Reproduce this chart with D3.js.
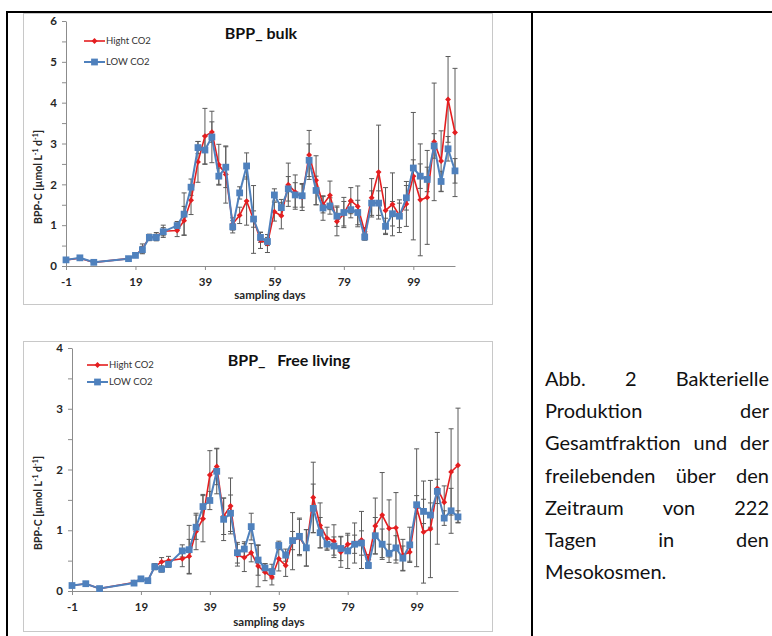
<!DOCTYPE html>
<html>
<head>
<meta charset="utf-8">
<script src="https://cdn.jsdelivr.net/npm/d3@7"></script>
<style>
  html, body { margin: 0; padding: 0; background: #fff; }
  svg { display: block; }
  text { font-family: Lato, "Open Sans", sans-serif; }
</style>
</head>
<body>
<script>
// ---------------- DATA ----------------
const days = [-1, 3, 7, 17, 19, 21, 23, 25, 27, 31, 33, 35, 37, 39, 41, 43, 45, 47, 49, 51, 53, 55, 57, 59, 61, 63, 65, 67, 69, 71, 73, 75, 77, 79, 81, 83, 85, 87, 89, 91, 93, 95, 97, 99, 101, 103, 105, 107, 109, 111];

const seriesNames = ["Hight CO2", "LOW CO2"];

// BPP bulk
const bulkHigh = [0.15, 0.19, 0.09, 0.18, 0.26, 0.42, 0.70, 0.72, 0.85,
  0.87, 1.11, 1.61, 2.55, 3.18, 3.28, 2.48, 2.24, 1.03, 1.24, 1.59, 1.14, 0.63, 0.55, 1.33, 1.23,
  1.99, 1.81, 1.69, 2.72, 2.10, 1.50, 1.73, 1.09, 1.28, 1.60, 1.46, 0.84, 1.67, 2.30, 1.36, 1.51,
  1.24, 1.52, 2.20, 1.62, 1.68, 3.04, 2.57, 4.08, 3.27];
const bulkLow = [0.15, 0.20, 0.09, 0.18, 0.26, 0.40, 0.70, 0.70, 0.84,
  0.99, 1.27, 1.93, 2.90, 2.84, 3.16, 2.20, 2.42, 0.96, 1.79, 2.45, 1.15, 0.70, 0.60, 1.74, 1.43,
  1.89, 1.74, 1.72, 2.59, 1.85, 1.42, 1.47, 1.22, 1.31, 1.38, 1.31, 0.71, 1.54, 1.54, 0.97, 1.28,
  1.22, 1.67, 2.40, 2.20, 2.12, 2.94, 2.07, 2.87, 2.33];
const bulkHighErr = [0.02, 0.02, 0.01, 0.03, 0.05, 0.12, 0.08, 0.10, 0.15,
  0.15, 0.35, 0.35, 0.50, 0.68, 0.25, 0.50, 0.70, 0.15, 0.20, 0.59, 0.83, 0.20, 0.22, 0.23, 0.32,
  0.53, 0.42, 0.33, 0.60, 0.60, 0.20, 0.35, 0.35, 0.30, 0.32, 0.50, 0.10, 0.47, 1.15, 0.56, 0.77,
  0.30, 0.55, 1.56, 1.37, 1.15, 1.44, 0.74, 1.05, 1.57];
const bulkLowErr = [0.02, 0.02, 0.01, 0.03, 0.04, 0.08, 0.06, 0.08, 0.10,
  0.10, 0.52, 0.20, 0.15, 0.35, 0.63, 0.20, 0.50, 0.15, 0.15, 0.32, 0.20, 0.12, 0.10, 0.15, 0.20,
  0.30, 0.30, 0.28, 0.40, 0.35, 0.30, 0.20, 0.25, 0.37, 0.20, 0.30, 0.08, 0.30, 0.30, 0.20, 0.30,
  0.40, 0.30, 0.20, 0.30, 0.30, 0.30, 0.25, 0.30, 0.30];

// BPP free living
const freeHigh = [0.09, 0.12, 0.04, 0.14, 0.20, 0.17, 0.40, 0.48, 0.50,
  0.53, 0.57, 0.98, 1.19, 1.91, 2.05, 1.23, 1.40, 0.59, 0.55, 0.63, 0.41, 0.31, 0.23, 0.53, 0.42,
  0.82, 0.88, 0.71, 1.54, 1.08, 0.87, 0.82, 0.64, 0.77, 0.79, 0.84, 0.52, 1.07, 1.25, 1.03, 1.04,
  0.59, 0.64, 1.37, 0.97, 1.02, 1.69, 1.46, 1.96, 2.07];
const freeLow = [0.09, 0.12, 0.04, 0.13, 0.20, 0.17, 0.40, 0.36, 0.44,
  0.66, 0.68, 1.05, 1.39, 1.49, 1.97, 1.18, 1.28, 0.63, 0.69, 1.06, 0.51, 0.38, 0.32, 0.75, 0.59,
  0.83, 0.90, 0.71, 1.36, 0.96, 0.77, 0.74, 0.70, 0.66, 0.77, 0.79, 0.42, 0.91, 0.77, 0.62, 0.71,
  0.54, 0.76, 1.42, 1.31, 1.25, 1.64, 1.20, 1.32, 1.22];
const freeHighErr = [0.01, 0.01, 0.01, 0.02, 0.03, 0.03, 0.05, 0.07, 0.07,
  0.13, 0.28, 0.30, 0.38, 0.40, 0.30, 0.30, 0.46, 0.18, 0.23, 0.15, 0.34, 0.14, 0.13, 0.20, 0.18,
  0.47, 0.30, 0.30, 0.58, 0.37, 0.18, 0.27, 0.25, 0.15, 0.33, 0.47, 0.08, 0.46, 0.70, 0.47, 0.58,
  0.26, 0.15, 0.97, 0.84, 0.80, 0.92, 0.27, 0.71, 0.94];
const freeLowErr = [0.01, 0.01, 0.01, 0.02, 0.03, 0.03, 0.04, 0.05, 0.05,
  0.10, 0.40, 0.20, 0.20, 0.15, 0.37, 0.35, 0.30, 0.17, 0.12, 0.22, 0.25, 0.07, 0.12, 0.07, 0.10,
  0.15, 0.30, 0.30, 0.40, 0.25, 0.10, 0.15, 0.20, 0.29, 0.15, 0.20, 0.05, 0.30, 0.25, 0.15, 0.20,
  0.20, 0.29, 0.15, 0.20, 0.20, 0.20, 0.12, 0.37, 0.10];

const xTicks = [-1, 19, 39, 59, 79, 99];
const bulkYTicks = [0, 1, 2, 3, 4, 5, 6];
const freeYTicks = [0, 1, 2, 3, 4];

const captionLines = [
  ["Abb.", "2", "Bakterielle"],
  ["Produktion", "der"],
  ["Gesamtfraktion", "und", "der"],
  ["freilebenden", "über", "den"],
  ["Zeitraum", "von", "222"],
  ["Tagen", "in", "den"],
  ["Mesokosmen."]
];

// ---------------- DRAW ----------------
const RED = "#e41e20", BLUE = "#4f81bd", ERR = "#5a5a5a", AXIS = "#8c8c8c";
const svg = d3.select("body").append("svg").attr("width", 772).attr("height", 636);
svg.append("rect").attr("width", 772).attr("height", 636).attr("fill", "#fff");

function drawChart(cfg) {
  const g = svg.append("g");
  // chart frame
  g.append("rect").attr("x", cfg.frame[0] + 0.5).attr("y", cfg.frame[1] + 0.5)
    .attr("width", cfg.frame[2] - cfg.frame[0]).attr("height", cfg.frame[3] - cfg.frame[1])
    .attr("fill", "#fff").attr("stroke", "#c8c8c8").attr("stroke-width", 1);

  const x = d3.scaleLinear().domain([-1, 111]).range(cfg.xr);
  const y = d3.scaleLinear().domain([0, cfg.ymax]).range(cfg.yr);

  // y minor ticks
  const minor = d3.range(0.5, cfg.ymax, 1);
  g.append("g").attr("transform", `translate(${cfg.xr[0]},0)`)
    .call(d3.axisLeft(y).tickValues(minor).tickSize(4).tickFormat(""))
    .call(a => a.select(".domain").remove())
    .selectAll("line").attr("stroke", AXIS);
  // y axis
  const ya = g.append("g").attr("transform", `translate(${cfg.xr[0]},0)`)
    .call(d3.axisLeft(y).tickValues(cfg.yTicks).tickSize(4).tickPadding(5).tickSizeOuter(0).tickFormat(d => String(d)));
  ya.select(".domain").attr("stroke", AXIS);
  ya.selectAll("line").attr("stroke", AXIS);
  ya.selectAll("text").attr("font-family", "Lato, sans-serif").attr("font-size", 11.5)
    .attr("font-weight", "bold").attr("fill", "#262626");
  // x axis
  const xa = g.append("g").attr("transform", `translate(0,${cfg.yr[0]})`)
    .call(d3.axisBottom(x).tickValues(xTicks).tickSize(4).tickPadding(8).tickSizeOuter(0).tickFormat(d => String(d)));
  xa.select(".domain").attr("stroke", AXIS);
  xa.selectAll("line").attr("stroke", AXIS);
  xa.selectAll("text").attr("font-family", "Lato, sans-serif").attr("font-size", 11.5)
    .attr("font-weight", "bold").attr("fill", "#262626");

  // error bars
  const eg = g.append("g").attr("stroke", ERR).attr("stroke-width", 1).attr("fill", "none");
  [[cfg.high, cfg.highErr], [cfg.low, cfg.lowErr]].forEach(([vals, errs]) => {
    days.forEach((d, i) => {
      const e = errs[i];
      if (!e) return;
      const cx = x(d), y1 = y(vals[i] + e), y0 = y(Math.max(0, vals[i] - e));
      eg.append("line").attr("x1", cx).attr("x2", cx).attr("y1", y1).attr("y2", y0);
      eg.append("line").attr("x1", cx - 2.5).attr("x2", cx + 2.5).attr("y1", y1).attr("y2", y1);
      eg.append("line").attr("x1", cx - 2.5).attr("x2", cx + 2.5).attr("y1", y0).attr("y2", y0);
    });
  });

  const line = d3.line().x(d => x(d[0])).y(d => y(d[1]));
  const diamond = d3.symbol().type(d3.symbolDiamond2).size(22);
  const square = d3.symbol().type(d3.symbolSquare).size(46);

  // red series
  const hp = days.map((d, i) => [d, cfg.high[i]]);
  g.append("path").datum(hp).attr("d", line).attr("fill", "none").attr("stroke", RED).attr("stroke-width", 1.6);
  g.append("g").selectAll("path").data(hp).join("path")
    .attr("transform", d => `translate(${x(d[0])},${y(d[1])})`).attr("d", diamond).attr("fill", RED);
  // blue series
  const lp = days.map((d, i) => [d, cfg.low[i]]);
  g.append("path").datum(lp).attr("d", line).attr("fill", "none").attr("stroke", BLUE).attr("stroke-width", 2);
  g.append("g").selectAll("path").data(lp).join("path")
    .attr("transform", d => `translate(${x(d[0])},${y(d[1])})`).attr("d", square).attr("fill", BLUE);

  // title
  g.append("text").attr("x", cfg.title[1]).attr("y", cfg.title[2]).attr("text-anchor", "middle")
    .attr("font-size", 16).attr("font-weight", "bold").attr("fill", "#111")
    .style("white-space", "pre").text(cfg.title[0]);

  // legend
  const lg = g.append("g").attr("transform", `translate(${cfg.legend[0]},${cfg.legend[1]})`);
  [[RED, diamond, 0, 1.6], [BLUE, square, cfg.legend[2], 2]].forEach(([c, sym, dy, sw], k) => {
    lg.append("line").attr("x1", 0).attr("x2", 21).attr("y1", dy).attr("y2", dy).attr("stroke", c).attr("stroke-width", sw);
    lg.append("path").attr("transform", `translate(10.5,${dy})`).attr("d", sym).attr("fill", c);
    lg.append("text").attr("x", 22).attr("y", dy).attr("dy", "0.35em").attr("font-size", 9.5)
      .attr("fill", "#333").text(seriesNames[k]);
  });

  // y axis label
  const yl = g.append("text").attr("transform", `translate(${cfg.ylab[0]},${cfg.ylab[1]}) rotate(-90)`)
    .attr("text-anchor", "middle").attr("font-size", 10.5).attr("font-weight", "bold").attr("fill", "#262626");
  yl.append("tspan").text("BPP-C [µmol L");
  yl.append("tspan").attr("dy", -4).attr("font-size", 7).text("-1");
  yl.append("tspan").attr("dy", 4).text(" d");
  yl.append("tspan").attr("dy", -4).attr("font-size", 7).text("-1");
  yl.append("tspan").attr("dy", 4).text("]");

  // x axis label
  g.append("text").attr("x", cfg.xlab[0]).attr("y", cfg.xlab[1]).attr("text-anchor", "middle")
    .attr("font-size", 11.5).attr("font-weight", "bold").attr("fill", "#262626").text("sampling days");
}

drawChart({
  frame: [23, 13, 492, 304], xr: [66, 455], yr: [266, 21], ymax: 6, yTicks: bulkYTicks,
  high: bulkHigh, low: bulkLow, highErr: bulkHighErr, lowErr: bulkLowErr,
  title: ["BPP_ bulk", 261, 39], legend: [84, 41, 21], ylab: [42, 177], xlab: [270, 299]
});
drawChart({
  frame: [23, 341, 492, 631], xr: [72, 458], yr: [591, 348], ymax: 4, yTicks: freeYTicks,
  high: freeHigh, low: freeLow, highErr: freeHighErr, lowErr: freeLowErr,
  title: ["BPP_   Free living", 289, 366], legend: [87, 365, 17], ylab: [42, 503], xlab: [269, 626]
});

// table borders
const bg = svg.append("g").attr("stroke", "#000").attr("stroke-width", 2);
bg.append("line").attr("x1", 6).attr("x2", 772).attr("y1", 12).attr("y2", 12);
bg.append("line").attr("x1", 7).attr("x2", 7).attr("y1", 11).attr("y2", 636);
bg.append("line").attr("x1", 532).attr("x2", 532).attr("y1", 11).attr("y2", 636);

// caption (justified)
const cap = svg.append("g").attr("fill", "#111");
const left = 545, right = 769, base0 = 386, lh = 32.2;
// choose font size so that the longest natural line fits the column
const probe = cap.append("text").attr("font-size", 20).text(captionLines[2].join(" "));
const natural = probe.node().getComputedTextLength();
probe.remove();
const fs = Math.min(20, 20 * 224 / natural);
captionLines.forEach((words, li) => {
  const yb = base0 + li * lh;
  const widths = words.map(w => {
    const t = cap.append("text").attr("font-size", fs).text(w);
    const wd = t.node().getComputedTextLength(); t.remove(); return wd;
  });
  const last = li === captionLines.length - 1;
  const total = d3.sum(widths);
  const gap = (!last && words.length > 1) ? (right - left - total) / (words.length - 1) : fs * 0.25;
  let cx = left;
  words.forEach((w, i) => {
    cap.append("text").attr("x", cx).attr("y", yb).attr("font-size", fs).text(w);
    cx += widths[i] + gap;
  });
});
</script>
</body>
</html>
